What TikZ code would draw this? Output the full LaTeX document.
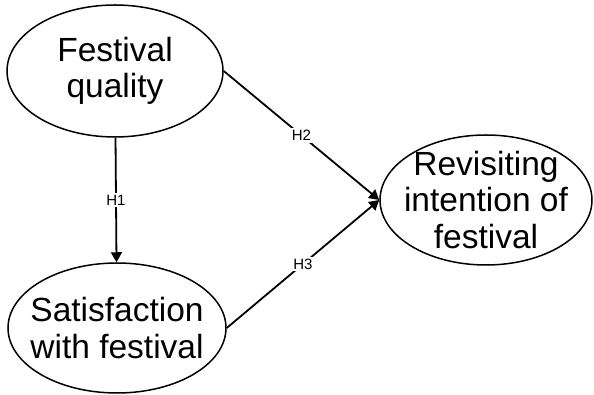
\documentclass[tikz,border=0pt]{standalone}
\usepackage{fontspec}
\setmainfont{Liberation Sans}
\usepackage{tikz}
\usetikzlibrary{arrows.meta, positioning, shapes.geometric}
\tikzset{
  ebox/.style={draw, ellipse, line width=1.5pt, align=center,
               font=\fontsize{33.5}{36.5}\selectfont,
               inner xsep=-18pt, inner ysep=-12pt},
  arr/.style={-{Triangle[length=10pt,width=11pt]}, line width=1.8pt},
  hlab/.style={fill=white, inner sep=2pt, font=\fontsize{15}{17}\selectfont},
}
\begin{document}
\begin{tikzpicture}[x=1pt, y=1pt]
  \useasboundingbox (0,0) rectangle (594,395);
  \node[ebox, minimum width=216pt, minimum height=132pt] (fq) at (115,324)
    {Festival\\quality};
  \node[ebox, minimum width=218pt, minimum height=130pt] (sat) at (117,67)
    {Satisfaction\\with festival};
  \node[ebox, minimum width=212pt, minimum height=130pt] (rev) at (486,195)
    {Revisiting\\intention of\\festival};
  \draw[arr] (fq) -- node[hlab] {H1} (sat);
  \draw[arr] (fq.east) -- node[hlab] {H2} (rev.west);
  \draw[arr] (sat.east) -- node[hlab] {H3} (rev.west);
\end{tikzpicture}
\end{document}
